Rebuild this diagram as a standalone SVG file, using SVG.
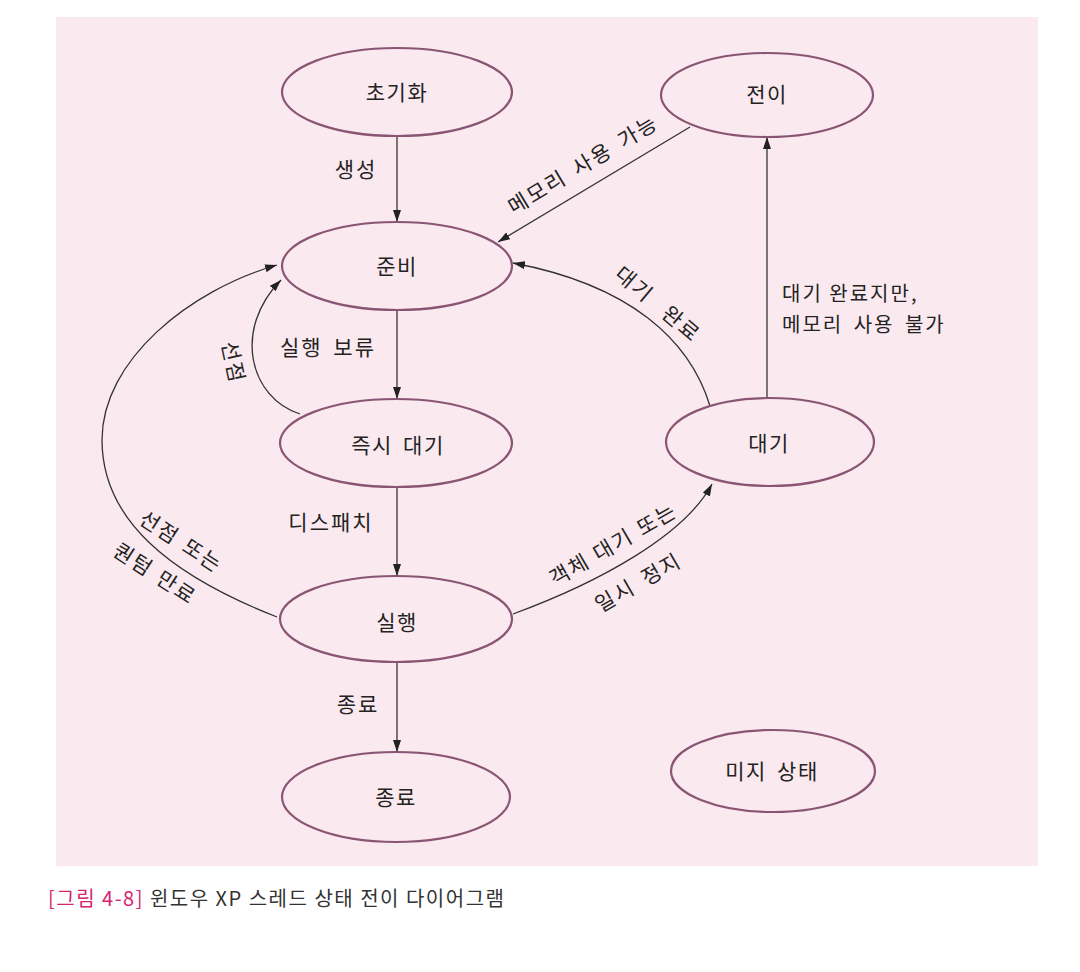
<svg xmlns="http://www.w3.org/2000/svg" width="1080" height="972" viewBox="0 0 1080 972">
<defs>
<marker id="ah" markerWidth="13" markerHeight="8" refX="12" refY="4" orient="auto" markerUnits="userSpaceOnUse">
<path d="M0,0 L12,4 L0,8 z" fill="#222"/>
</marker>
<style>
.node ellipse{fill:#fae9ef;stroke:#8a5573;stroke-width:2.2}
.node text{font-family:"Noto Sans CJK KR","Noto Sans",sans-serif;font-size:21px;fill:#232323;text-anchor:middle;letter-spacing:1.5px}
.edge{fill:none;stroke:#333;stroke-width:1.3;marker-end:url(#ah)}
.lbl{font-family:"Noto Sans CJK KR","Noto Sans",sans-serif;font-size:21px;fill:#232323;letter-spacing:2px}
.c{text-anchor:middle}
.cap{font-family:"Noto Sans CJK KR","Noto Sans",sans-serif;font-size:20px;fill:#333;letter-spacing:1.5px}
</style>
</defs>
<rect x="0" y="0" width="1080" height="972" fill="#ffffff"/>
<rect x="56" y="17" width="982" height="849" fill="#fae9ef"/>

<g id="connectors">
<path class="edge" d="M397,136 L397,222"/>
<path class="edge" d="M397,310 L397,399"/>
<path class="edge" d="M397,487 L397,576"/>
<path class="edge" d="M397,662 L397,752"/>
<path class="edge" d="M690,127 L498,242"/>
<path class="edge" d="M767,398 L767,137"/>
<path class="edge" d="M710,406 C690,340 630,285 513,263"/>
<path class="edge" d="M300,414 C250,398 232,330 281,280"/>
<path class="edge" d="M277,617 C170,575 102,520 102,440 C102,360 190,290 277,265"/>
<path class="edge" d="M513,614 C600,582 685,535 712,484"/>
</g>

<g id="labels">
<text class="lbl c" x="356" y="177">생성</text>
<text class="lbl c" transform="translate(587,171) rotate(-31)" word-spacing="4">메모리 사용 가능</text>
<text class="lbl c" transform="translate(653,310) rotate(40)" word-spacing="12">대기 완료</text>
<text class="lbl" x="782" y="301" style="font-size:20px">대기 완료지만,</text>
<text class="lbl" x="782" y="332" style="font-size:20px" word-spacing="4">메모리 사용 불가</text>
<text class="lbl c" x="328" y="355" word-spacing="4">실행 보류</text>
<text class="lbl c" transform="translate(226,364) rotate(78)">선점</text>
<text class="lbl c" x="331" y="530">디스패치</text>
<text class="lbl c" transform="translate(177,548) rotate(33)" word-spacing="2">선점 또는</text>
<text class="lbl c" transform="translate(151,580) rotate(33)" word-spacing="2">퀀텀 만료</text>
<text class="lbl c" transform="translate(617,551) rotate(-30)" word-spacing="1">객체 대기 또는</text>
<text class="lbl c" transform="translate(642,589) rotate(-30)" word-spacing="4">일시 정지</text>
<text class="lbl c" x="358" y="712">종료</text>
</g>

<g id="n-init" class="node"><ellipse cx="397" cy="92" rx="115" ry="44"/><text x="397" y="100">초기화</text></g>
<g id="n-transition" class="node"><ellipse cx="767" cy="95" rx="106" ry="42"/><text x="767" y="102">전이</text></g>
<g id="n-ready" class="node"><ellipse cx="397" cy="266" rx="115" ry="44"/><text x="397" y="274">준비</text></g>
<g id="n-standby" class="node"><ellipse cx="396" cy="443" rx="116" ry="44"/><text x="398" y="453" word-spacing="4">즉시 대기</text></g>
<g id="n-wait" class="node"><ellipse cx="770" cy="442" rx="104" ry="44"/><text x="769" y="451">대기</text></g>
<g id="n-run" class="node"><ellipse cx="396" cy="619" rx="116" ry="43"/><text x="397" y="630">실행</text></g>
<g id="n-term" class="node"><ellipse cx="396" cy="797" rx="114" ry="45"/><text x="396" y="805">종료</text></g>
<g id="n-unknown" class="node"><ellipse cx="773" cy="771" rx="102" ry="41"/><text x="772" y="779" word-spacing="4">미지 상태</text></g>

<text class="cap" x="48" y="906"><tspan fill="#d6246e">[그림 4-8]</tspan> 윈도우 XP 스레드 상태 전이 다이어그램</text>
</svg>
